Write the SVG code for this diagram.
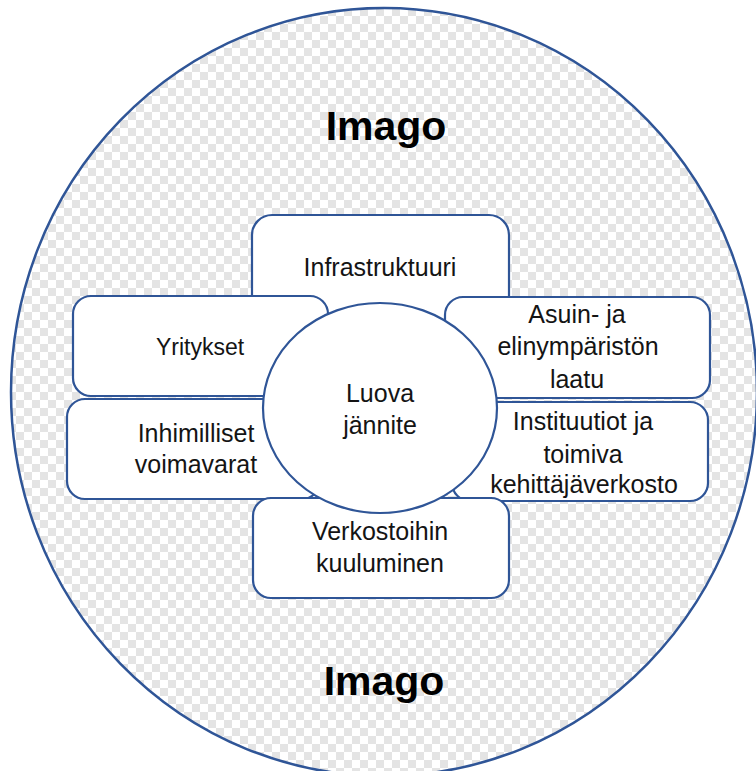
<svg xmlns="http://www.w3.org/2000/svg" width="756" height="771" viewBox="0 0 756 771">
  <defs>
    <pattern id="checker" x="0" y="0" width="16" height="16" patternUnits="userSpaceOnUse">
      <rect width="16" height="16" fill="#ffffff"/>
      <rect x="0" y="0" width="8" height="8" fill="#e4e4e4"/>
      <rect x="8" y="8" width="8" height="8" fill="#e4e4e4"/>
    </pattern>
  </defs>
  <style>
    .box { fill: #ffffff; stroke: #2f5597; stroke-width: 2.2; }
    .lbl { font-family: "Liberation Sans", Arial, sans-serif; font-size: 25px; fill: #141414; text-anchor: middle; }
    .title { font-family: "Liberation Sans", Arial, sans-serif; font-size: 41px; font-weight: bold; fill: #000000; text-anchor: middle; }
  </style>
  <rect width="756" height="771" fill="#ffffff"/>

  <!-- outer image ring -->
  <g id="imago">
    <ellipse cx="384" cy="392" rx="373" ry="384" fill="url(#checker)" stroke="#2f5597" stroke-width="2.5"/>
    <text class="title" x="386" y="140">Imago</text>
    <text class="title" x="384" y="695">Imago</text>
  </g>

  <g id="infrastruktuuri">
    <rect class="box" x="252" y="215" width="257" height="125" rx="20"/>
    <text class="lbl" x="380" y="276">Infrastruktuuri</text>
  </g>

  <g id="yritykset">
    <rect class="box" x="73" y="296" width="255" height="100" rx="18"/>
    <text class="lbl" x="200" y="355" style="font-size:23px">Yritykset</text>
  </g>

  <g id="asuin">
    <rect class="box" x="445" y="297" width="265" height="101" rx="18"/>
    <text class="lbl" x="577" y="323">Asuin- ja</text>
    <text class="lbl" x="578" y="355">elinympäristön</text>
    <text class="lbl" x="577" y="388">laatu</text>
  </g>

  <g id="inhimilliset">
    <rect class="box" x="67" y="399" width="253" height="100" rx="18"/>
    <text class="lbl" x="196" y="442">Inhimilliset</text>
    <text class="lbl" x="196" y="473">voimavarat</text>
  </g>

  <g id="instituutiot">
    <rect class="box" x="452" y="402" width="256" height="99" rx="18"/>
    <text class="lbl" x="583" y="430">Instituutiot ja</text>
    <text class="lbl" x="583" y="463">toimiva</text>
    <text class="lbl" x="584" y="493">kehittäjäverkosto</text>
  </g>

  <g id="verkostoihin">
    <rect class="box" x="253" y="498" width="256" height="100" rx="18"/>
    <text class="lbl" x="380" y="540">Verkostoihin</text>
    <text class="lbl" x="380" y="572">kuuluminen</text>
  </g>

  <g id="luova">
    <ellipse class="box" cx="380" cy="408" rx="117" ry="105"/>
    <text class="lbl" x="380" y="402">Luova</text>
    <text class="lbl" x="380" y="434">jännite</text>
  </g>

  <g id="connectors"/>
</svg>
